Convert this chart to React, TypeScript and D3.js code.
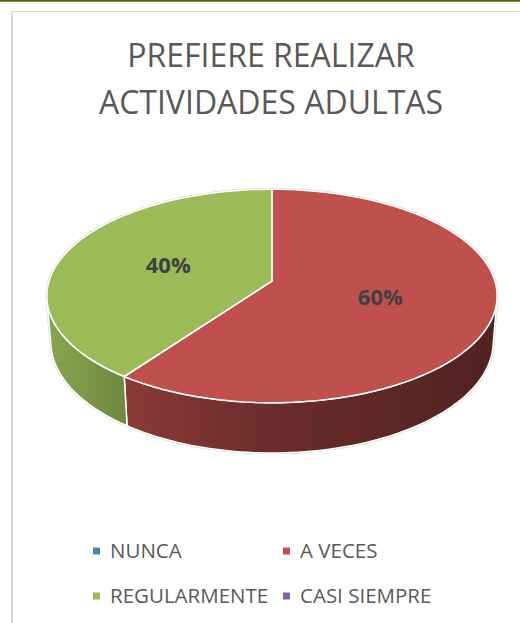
import React from 'react';
import * as d3 from 'd3';

const categories = ['NUNCA', 'A VECES', 'REGULARMENTE', 'CASI SIEMPRE'];
const values = [0, 60, 40, 0];
const colors = ['#4F81BD', '#C0504D', '#9BBB59', '#8064A2'];
const titleLines = ['PREFIERE REALIZAR', 'ACTIVIDADES ADULTAS'];

const W = 520;
const H = 623;
const CX = 272;
const CY = 281;
const F = 1402;
const DIST = 6.29;
const ALPHA = (28 * Math.PI) / 180;
const THICK = 0.235;
const FONT = "'Open Sans', 'Liberation Sans', sans-serif";

function proj(theta: number, r: number, Y: number): [number, number] {
  const X = r * Math.sin(theta);
  const Z = r * Math.cos(theta);
  const yc = Z * Math.sin(ALPHA) + Y * Math.cos(ALPHA);
  const zc = DIST + Z * Math.cos(ALPHA) - Y * Math.sin(ALPHA);
  return [CX + (F * X) / zc, CY - (F * yc) / zc];
}

function arcPts(a0: number, a1: number, Y: number, n = 80): [number, number][] {
  const pts: [number, number][] = [];
  for (let i = 0; i <= n; i++) {
    const t = a0 + ((a1 - a0) * i) / n;
    pts.push(proj(t, 1, Y));
  }
  return pts;
}

const line = d3.line<[number, number]>().x((d) => d[0]).y((d) => d[1]);

export default function App() {
  const pie = d3
    .pie<number>()
    .sort(null)
    .startAngle(0)
    .endAngle(2 * Math.PI)
    .value((d) => d);
  const arcs = pie(values);

  // visible side range (silhouette)
  const c = 1 / (DIST * Math.cos(ALPHA));
  const th1 = Math.acos(-c);
  const th2 = 2 * Math.PI - th1;

  const shadeStops = [
    { o: 0, k: 0.88 },
    { o: 0.18, k: 0.72 },
    { o: 0.5, k: 0.55 },
    { o: 1, k: 0.42 },
  ];
  const scale = (col: string, k: number) => {
    const c0 = d3.rgb(col);
    return d3.rgb(c0.r * k, c0.g * k, c0.b * k).formatHex();
  };

  const sides: { d: string; i: number }[] = [];
  const tops: { d: string; i: number }[] = [];
  arcs.forEach((a, i) => {
    if (a.endAngle - a.startAngle <= 1e-9) return;
    const topPts: [number, number][] = [proj(0, 0, 0), ...arcPts(a.startAngle, a.endAngle, 0)];
    tops.push({ d: line(topPts) + 'Z', i });
    const s = Math.max(a.startAngle, th1);
    const e = Math.min(a.endAngle, th2);
    if (e > s) {
      const pts = [...arcPts(s, e, 0), ...arcPts(s, e, -THICK).reverse()];
      sides.push({ d: line(pts) + 'Z', i });
    }
  });

  const outline = [...arcPts(0, 2 * Math.PI, 0, 240)];
  const frontOutline = [...arcPts(th1, th2, 0, 120), ...arcPts(th1, th2, -THICK, 120).reverse()];

  const labels = arcs
    .map((a, i) => {
      if (a.endAngle - a.startAngle <= 1e-9) return null;
      const mid = (a.startAngle + a.endAngle) / 2;
      const [x, y] = proj(mid, 0.5, 0);
      const pct = Math.round((a.value / d3.sum(values)) * 100) + '%';
      return { x, y, pct, i };
    })
    .filter(Boolean) as { x: number; y: number; pct: string; i: number }[];

  const legendCols = [93, 283];
  const legendRows = [551, 596];

  return (
    <svg
      width={W}
      height={H}
      style={{ position: 'absolute', left: 0, top: 0, background: '#fff' }}
    >
      <defs>
        {colors.map((col, i) => (
          <linearGradient key={i} id={`side${i}`} gradientUnits="userSpaceOnUse" x1={47} x2={497} y1={0} y2={0}>
            {shadeStops.map((s, j) => (
              <stop key={j} offset={s.o} stopColor={scale(col, s.k)} />
            ))}
          </linearGradient>
        ))}
      </defs>
      <rect x={0} y={0} width={W} height={H} fill="#ffffff" />
      <rect x={0} y={0} width={W} height={1} fill="#4f6228" />
      <rect x={0} y={1} width={W} height={1} fill="#77933c" />
      <line x1={11} y1={11.5} x2={W} y2={11.5} stroke="#d9d9d9" strokeWidth={1} />
      <line x1={12} y1={11} x2={12} y2={H} stroke="#d9d9d9" strokeWidth={2} />

      {titleLines.map((t, i) => (
        <text
          key={i}
          x={271}
          y={67 + i * 47}
          textAnchor="middle"
          fontFamily={FONT}
          fontSize={32}
          fill="#595959"
        >
          {t}
        </text>
      ))}

      <path d={line(frontOutline) + 'Z'} fill="none" stroke="#d0d0d0" strokeWidth={2.5} />
      <path d={line(outline) + 'Z'} fill="none" stroke="#d0d0d0" strokeWidth={2.5} />
      {sides.map((s) => (
        <path key={'s' + s.i} d={s.d} fill={`url(#side${s.i})`} stroke="#ffffff" strokeWidth={1.5} strokeLinejoin="round" />
      ))}
      {tops.map((s) => (
        <path key={'t' + s.i} d={s.d} fill={colors[s.i]} stroke="#ffffff" strokeWidth={1.5} strokeLinejoin="round" />
      ))}

      {labels.map((l) => (
        <text
          key={'l' + l.i}
          x={l.x}
          y={l.y}
          dy="0.36em"
          textAnchor="middle"
          fontFamily={FONT}
          fontWeight="bold"
          fontSize={22}
          fill="#404040"
        >
          {l.pct}
        </text>
      ))}

      {categories.map((cat, i) => {
        const x = legendCols[i % 2];
        const y = legendRows[Math.floor(i / 2)];
        return (
          <g key={'lg' + i}>
            <rect x={x} y={y - 3.5} width={7} height={7} fill={colors[i]} />
            <text x={x + 17} y={y + 7} fontFamily={FONT} fontSize={20.5} fill="#595959">
              {cat}
            </text>
          </g>
        );
      })}
    </svg>
  );
}
